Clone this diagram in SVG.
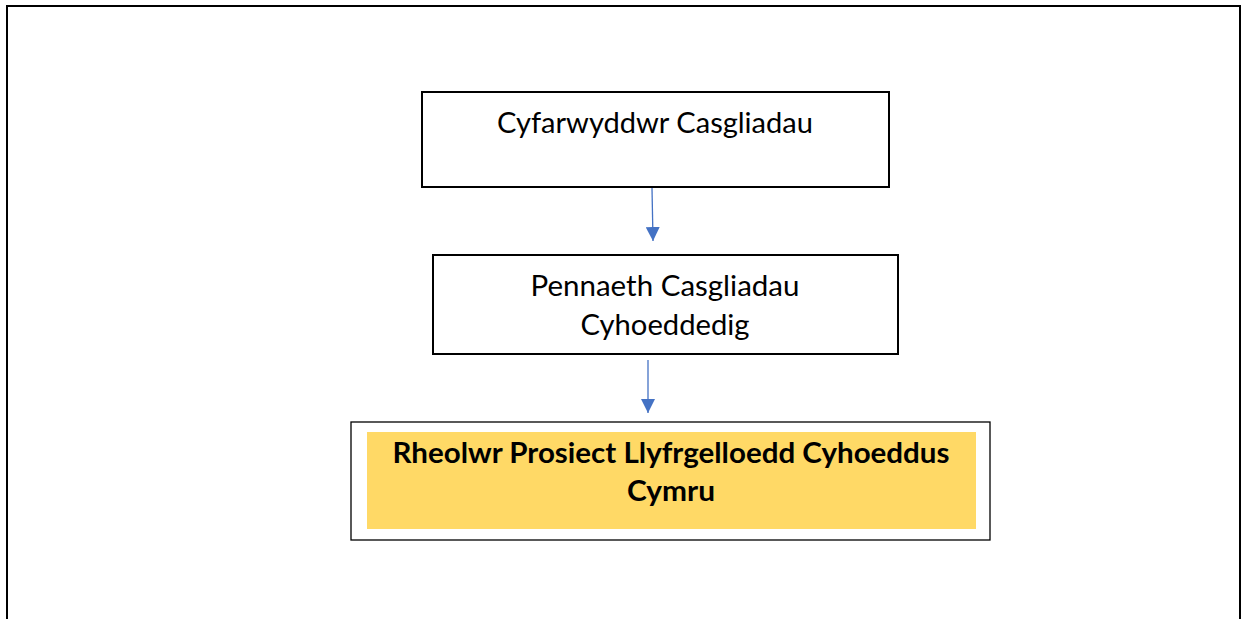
<svg xmlns="http://www.w3.org/2000/svg" width="1242" height="619" viewBox="0 0 1242 619">
<style>
.box{fill:#fff;stroke:#000;stroke-width:2}
.t{font-family:Lato,"Open Sans","Liberation Sans",sans-serif;font-size:28px;fill:#000;text-anchor:middle}
.b{font-weight:bold}
.c{stroke:#4472C4;stroke-width:1.3;fill:none}
</style>
<defs>
<marker id="ah" markerWidth="14" markerHeight="14" refX="14" refY="7" orient="auto" markerUnits="userSpaceOnUse" viewBox="0 0 14 14">
<path d="M0,0 L14,7 L0,14 Z" fill="#4472C4"/>
</marker>
</defs>
<rect width="1242" height="619" fill="#fff"/>
<path d="M7,619 V6 H1240 V619" fill="none" stroke="#000" stroke-width="2"/>
<g id="n1">
<rect class="box" x="422" y="92" width="467" height="95"/>
<text class="t" x="655" y="133" textLength="316" lengthAdjust="spacingAndGlyphs">Cyfarwyddwr Casgliadau</text>
</g>
<g id="n2">
<rect class="box" x="433" y="255" width="465" height="99"/>
<text class="t" x="665" y="296" textLength="269" lengthAdjust="spacingAndGlyphs">Pennaeth Casgliadau</text>
<text class="t" x="665" y="335" textLength="169" lengthAdjust="spacingAndGlyphs">Cyhoeddedig</text>
</g>
<g id="n3">
<rect x="351" y="422" width="639" height="118" fill="#fff" stroke="#000" stroke-width="1.3"/>
<rect x="367" y="432" width="609" height="97" fill="#FFD966"/>
<text class="t b" x="671" y="463" textLength="557" lengthAdjust="spacingAndGlyphs">Rheolwr Prosiect Llyfrgelloedd Cyhoeddus</text>
<text class="t b" x="671" y="501" textLength="88" lengthAdjust="spacingAndGlyphs">Cymru</text>
</g>
<g id="connectors">
<line class="c" x1="652" y1="188" x2="653" y2="241" marker-end="url(#ah)"/>
<line class="c" x1="648" y1="360" x2="648" y2="413" marker-end="url(#ah)"/>
</g>
</svg>
